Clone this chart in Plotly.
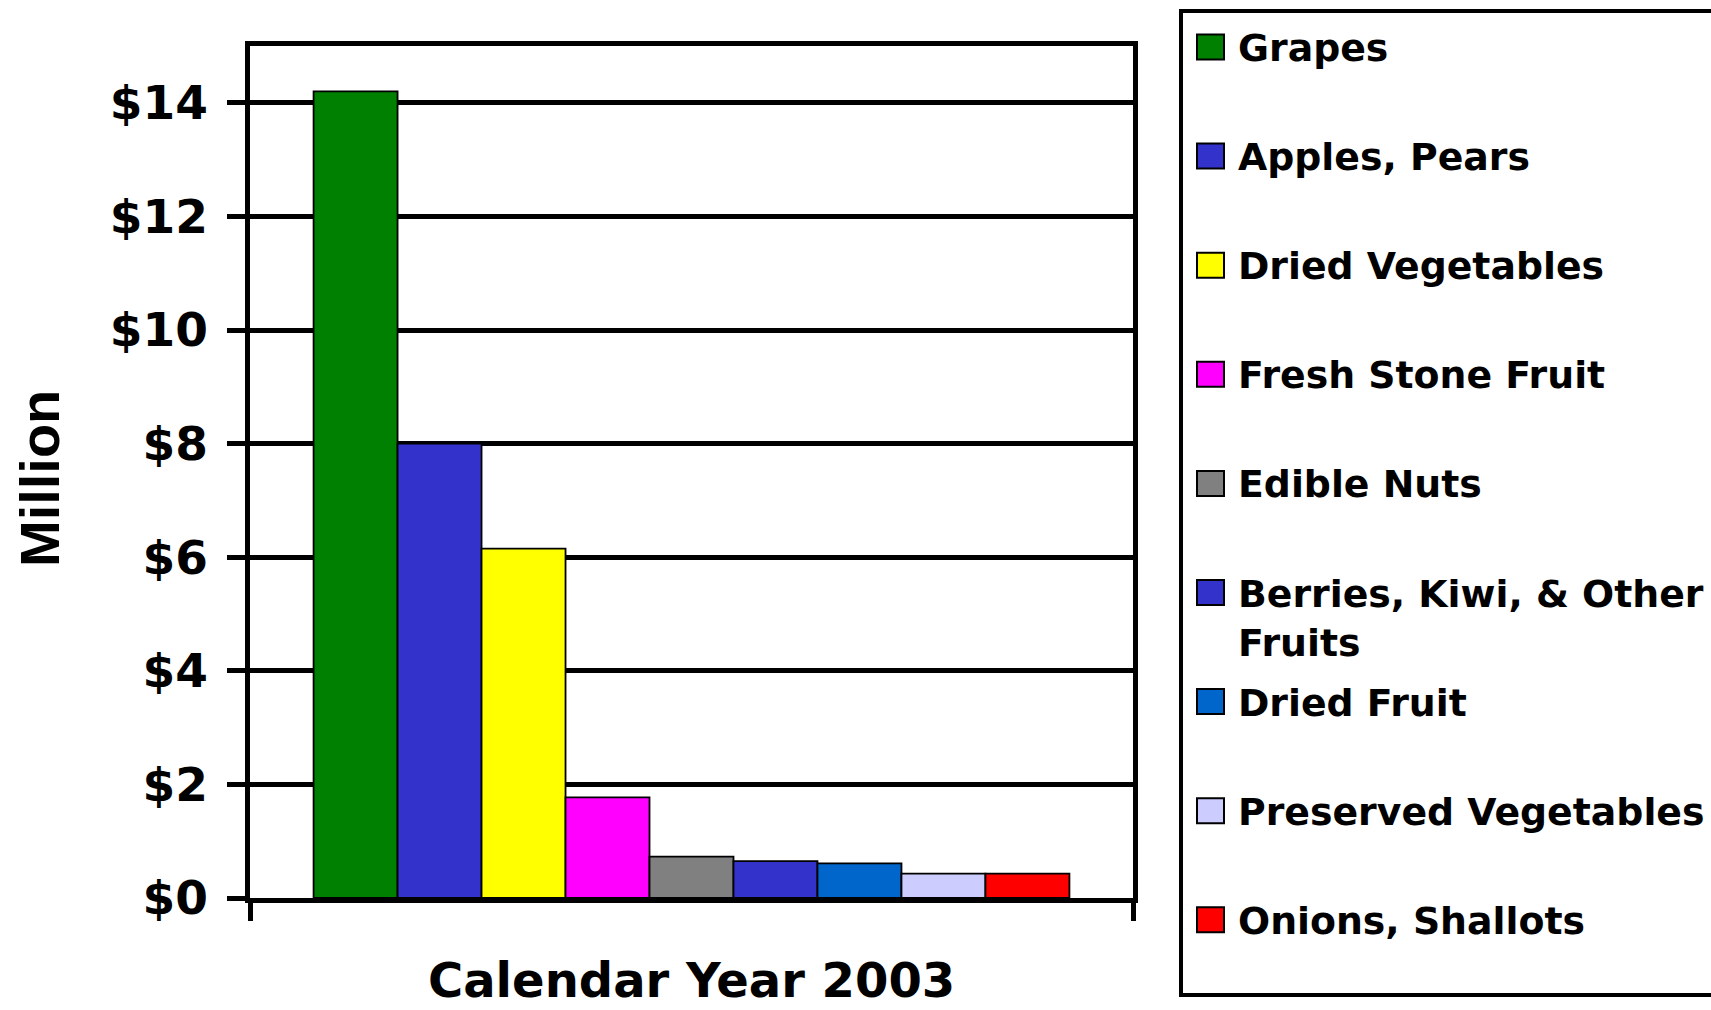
import plotly.graph_objects as go

# ---- data ----
categories = ["Grapes", "Apples, Pears", "Dried Vegetables", "Fresh Stone Fruit",
              "Edible Nuts", "Berries, Kiwi, & Other<br>Fruits", "Dried Fruit",
              "Preserved Vegetables", "Onions, Shallots"]
values = [14.2, 8.0, 6.15, 1.77, 0.73, 0.65, 0.61, 0.43, 0.43]
colors = ["#008000", "#3333CC", "#FFFF00", "#FF00FF", "#808080",
          "#3333CC", "#0066CC", "#CCCCFF", "#FF0000"]
x_title = "Calendar Year 2003"
y_title = "Million"
y_tick_vals = [0, 2, 4, 6, 8, 10, 12, 14]
y_tick_text = ["$0", "$2", "$4", "$6", "$8", "$10", "$12", "$14"]

# ---- layout in pixels ----
W, H = 1711, 1010
L, R, T, B = 250, 1133, 46, 898
FONT = "DejaVu Sans"


def px_x(p):
    return (p - L) / (R - L)


def px_y(p):
    return (B - p) / (B - T)


fig = go.Figure()
for name, val, col in zip(categories, values, colors):
    fig.add_trace(go.Bar(
        x=[0], y=[val], name=name,
        marker=dict(color=col, line=dict(color="black", width=1.8)),
        showlegend=False,
    ))

shapes = []
annotations = []

# legend frame (runs off the right edge like the original)
shapes.append(dict(type="rect", xref="paper", yref="paper",
                   x0=px_x(1181), x1=px_x(1770), y0=px_y(995), y1=px_y(11),
                   line=dict(color="black", width=4), fillcolor="rgba(0,0,0,0)",
                   layer="above"))

step = 109.1
for i, (name, col) in enumerate(zip(categories, colors)):
    cy = 47 + i * step
    shapes.append(dict(type="rect", xref="paper", yref="paper",
                       x0=px_x(1197), x1=px_x(1224),
                       y0=px_y(cy + 12.5), y1=px_y(cy - 12.5),
                       fillcolor=col, line=dict(color="black", width=2),
                       layer="above"))
    annotations.append(dict(
        xref="paper", yref="paper", x=px_x(1236), y=px_y(cy - 23),
        xanchor="left", yanchor="top", align="left", showarrow=False,
        text=name, font=dict(family=FONT, size=37.8, color="black", weight="bold"),
    ))

annotations.append(dict(
    xref="paper", yref="paper", x=0.5, y=px_y(1010),
    xanchor="center", yanchor="bottom", showarrow=False, text=x_title,
    font=dict(family=FONT, size=48, color="black", weight="bold"),
))
annotations.append(dict(
    xref="paper", yref="paper", x=px_x(40), y=px_y(479),
    xanchor="center", yanchor="middle", showarrow=False, text=y_title,
    textangle=-90,
    font=dict(family="Liberation Sans", size=56, color="black", weight="bold"),
))

fig.update_layout(
    width=W, height=H,
    margin=dict(l=L, r=W - R, t=T, b=H - B, pad=0),
    paper_bgcolor="white", plot_bgcolor="white",
    barmode="group", bargap=0.144, bargroupgap=0,
    shapes=shapes, annotations=annotations,
    showlegend=False,
    xaxis=dict(range=[-0.5, 0.5], tickmode="array", tickvals=[-0.5, 0.5],
               showticklabels=False, ticks="outside", ticklen=18, tickwidth=4.5,
               tickcolor="black", showgrid=False, zeroline=False,
               showline=True, linecolor="black", linewidth=4.5, mirror=True),
    yaxis=dict(range=[0, 15], tickmode="array", tickvals=y_tick_vals,
               ticktext=y_tick_text, ticks="outside", ticklen=18, tickwidth=4.5,
               tickcolor="black", ticklabelstandoff=10,
               tickfont=dict(family=FONT, size=47, color="black", weight="bold"),
               showgrid=True, gridcolor="black", gridwidth=4.5, zeroline=False,
               showline=True, linecolor="black", linewidth=4.5, mirror=True),
)

fig.write_html("out.html", config={"displayModeBar": False},
               post_script="document.body.style.margin='0';")
